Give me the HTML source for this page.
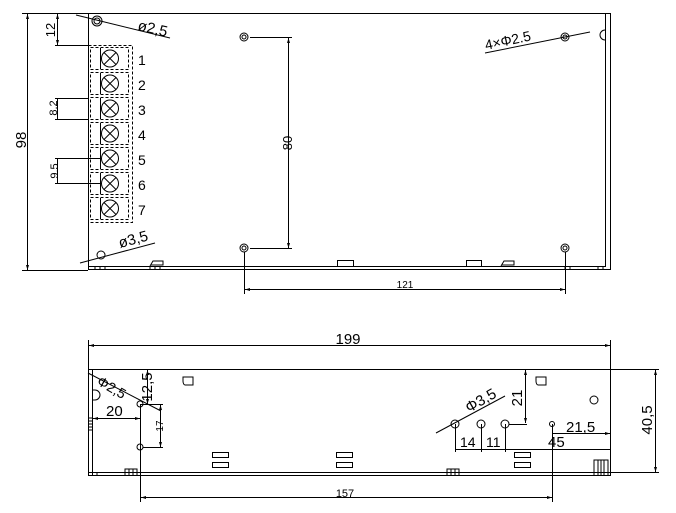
<!DOCTYPE html>
<html><head><meta charset="utf-8"><style>
html,body{margin:0;padding:0;background:#fff;}
svg{display:block;}
text{font-family:"Liberation Sans",sans-serif;fill:#000;}
</style></head><body>
<svg width="676" height="513" viewBox="0 0 676 513" xmlns="http://www.w3.org/2000/svg">
<defs>
<marker id="a" viewBox="0 0 10 6" refX="10" refY="3" markerWidth="7" markerHeight="3" orient="auto-start-reverse"><path d="M0,0L10,3L0,6z" fill="#000"/></marker>
</defs>
<g stroke="#000" stroke-width="1" fill="none">
<!-- TOP VIEW -->
<rect x="88.5" y="13.5" width="522" height="256"/>
<line x1="88" y1="266.5" x2="606" y2="266.5"/>
<line x1="605.5" y1="13" x2="605.5" y2="267"/>
<line x1="610.5" y1="13" x2="610.5" y2="270"/>
<path d="M605 30 a5 5 0 0 0 0 10"/>
<!-- bottom feet -->
<rect x="337.5" y="260.5" width="16" height="6"/>
<rect x="466.5" y="260.5" width="15" height="6"/>
<path d="M150 266 l3 -5 h10 v4 h-12"/>
<path d="M501 266 l3 -5 h10 v4 h-12"/>
<path d="M95 267v3M100 267v3M105 267v3M150 267v3M155 267v3M160 267v3M565 267v3M570 267v3M598 267v3M603 267v3"/>
<!-- holes -->
<circle cx="244" cy="37" r="4"/><circle cx="244" cy="37" r="2"/>
<circle cx="244" cy="248" r="4"/><circle cx="244" cy="248" r="2"/>
<circle cx="565" cy="37" r="4"/><circle cx="565" cy="37" r="2"/>
<circle cx="565" cy="248" r="4"/><circle cx="565" cy="248" r="2"/>
<circle cx="97" cy="21" r="5"/><circle cx="97" cy="21" r="3"/>
<circle cx="101" cy="255" r="4"/>
<!-- terminal block -->
<rect x="88.5" y="45.5" width="44" height="177" stroke-dasharray="3,2"/>
<g id="t">
<rect x="90.5" y="47.5" width="38" height="22" stroke-dasharray="3,2"/>
<line x1="100.5" y1="48" x2="100.5" y2="69"/>
<circle cx="110" cy="58.5" r="8.5"/>
<path d="M104 52.5l12 12M116 52.5l-12 12"/>
</g>
<use href="#t" y="25"/><use href="#t" y="50"/><use href="#t" y="75"/><use href="#t" y="100"/><use href="#t" y="125"/><use href="#t" y="150"/>
<!-- dims top view -->
<line x1="22" y1="13.5" x2="88" y2="13.5"/>
<line x1="22" y1="270.5" x2="88" y2="270.5"/>
<line x1="27.5" y1="14" x2="27.5" y2="270" marker-start="url(#a)" marker-end="url(#a)"/>
<line x1="55" y1="45.5" x2="88" y2="45.5"/>
<line x1="57.5" y1="14" x2="57.5" y2="45" marker-start="url(#a)" marker-end="url(#a)"/>
<line x1="55" y1="98.5" x2="88" y2="98.5"/>
<line x1="55" y1="119.5" x2="88" y2="119.5"/>
<line x1="57.5" y1="98" x2="57.5" y2="120"/>
<line x1="55" y1="158.5" x2="102" y2="158.5"/>
<line x1="55" y1="183.5" x2="102" y2="183.5"/>
<line x1="57.5" y1="158" x2="57.5" y2="184"/>
<line x1="250" y1="37.5" x2="292" y2="37.5"/>
<line x1="250" y1="248.5" x2="292" y2="248.5"/>
<line x1="288.5" y1="38" x2="288.5" y2="248" marker-start="url(#a)" marker-end="url(#a)"/>
<line x1="244.5" y1="252" x2="244.5" y2="294"/>
<line x1="565.5" y1="252" x2="565.5" y2="294"/>
<line x1="245" y1="289.5" x2="565" y2="289.5" marker-start="url(#a)" marker-end="url(#a)"/>
<!-- leaders -->
<line x1="76" y1="15" x2="170" y2="38"/>
<line x1="80" y1="263" x2="155" y2="243"/>
<line x1="485" y1="53" x2="590" y2="32"/>
<!-- BOTTOM VIEW -->
<rect x="88.5" y="369.5" width="522" height="106"/>
<line x1="88" y1="472.5" x2="611" y2="472.5"/>
<line x1="92.5" y1="369" x2="92.5" y2="476"/>
<path d="M92 390 h3 a5 5 0 0 1 0 10 h-3"/>
<path d="M88 418h4M88 421h4M88 424h4M88 427h4M88 430h4"/>
<path d="M125 476v-7h12v7M129 469v7M133 469v7"/>
<path d="M447 476v-7h12v7M451 469v7M455 469v7"/>
<path d="M594 476v-16h14v16M598 460v16M601 460v16M604 460v16"/>
<path d="M97 472v4"/>
<rect x="212.5" y="452.5" width="16" height="5"/><rect x="212.5" y="462.5" width="16" height="5"/>
<rect x="336.5" y="452.5" width="16" height="5"/><rect x="336.5" y="462.5" width="16" height="5"/>
<rect x="514.5" y="452.5" width="16" height="5"/><rect x="514.5" y="462.5" width="16" height="5"/>
<path d="M183 377h10v8h-8a2 4 0 0 1 -2 -4z"/>
<path d="M536 377h10v8h-8a2 4 0 0 1 -2 -4z"/>
<circle cx="140" cy="404" r="3"/>
<circle cx="140" cy="447" r="3"/>
<circle cx="455" cy="424" r="4"/>
<circle cx="481" cy="424" r="4"/>
<circle cx="505" cy="424" r="4"/>
<circle cx="552" cy="424" r="2.5"/>
<circle cx="594" cy="400" r="4"/>
<!-- dims bottom -->
<line x1="88.5" y1="340" x2="88.5" y2="369"/>
<line x1="610.5" y1="340" x2="610.5" y2="369"/>
<line x1="89" y1="345.5" x2="610" y2="345.5" marker-start="url(#a)" marker-end="url(#a)"/>
<line x1="611" y1="369.5" x2="659" y2="369.5"/>
<line x1="611" y1="472.5" x2="659" y2="472.5"/>
<line x1="655.5" y1="370" x2="655.5" y2="472" marker-start="url(#a)" marker-end="url(#a)"/>
<line x1="140.5" y1="404" x2="140.5" y2="502"/>
<line x1="552.5" y1="424" x2="552.5" y2="502"/>
<line x1="141" y1="497.5" x2="552" y2="497.5" marker-start="url(#a)" marker-end="url(#a)"/>
<line x1="93" y1="418.5" x2="140" y2="418.5" marker-start="url(#a)" marker-end="url(#a)"/>
<line x1="147.5" y1="370" x2="147.5" y2="404" marker-start="url(#a)" marker-end="url(#a)"/>
<line x1="140" y1="404.5" x2="163" y2="404.5"/>
<line x1="143" y1="447.5" x2="163" y2="447.5"/>
<line x1="160.5" y1="405" x2="160.5" y2="447" marker-start="url(#a)" marker-end="url(#a)"/>
<line x1="88" y1="373" x2="161" y2="411"/>
<line x1="525.5" y1="370" x2="525.5" y2="423" marker-start="url(#a)" marker-end="url(#a)"/>
<line x1="509" y1="424.5" x2="527" y2="424.5"/>
<line x1="455.5" y1="424" x2="455.5" y2="452"/>
<line x1="481.5" y1="424" x2="481.5" y2="452"/>
<line x1="505.5" y1="424" x2="505.5" y2="452"/>
<line x1="455" y1="449.5" x2="610" y2="449.5"/>
<line x1="553" y1="433.5" x2="610" y2="433.5" marker-end="url(#a)"/>
<line x1="436" y1="433" x2="505" y2="396"/>
</g>
<!-- labels -->
<g font-size="14">
<text x="138" y="65">1</text><text x="138" y="90">2</text><text x="138" y="115">3</text><text x="138" y="140">4</text><text x="138" y="165">5</text><text x="138" y="190">6</text><text x="138" y="215">7</text>
<text transform="translate(26,140) rotate(-90)" text-anchor="middle" font-size="15">98</text>
<text transform="translate(55,30) rotate(-90)" text-anchor="middle" font-size="13">12</text>
<text transform="translate(57,108) rotate(-90)" text-anchor="middle" font-size="11">8.2</text>
<text transform="translate(58,171) rotate(-90)" text-anchor="middle" font-size="11">9.5</text>
<text transform="translate(292,143) rotate(-90)" text-anchor="middle" font-size="13">80</text>
<text x="405" y="288" text-anchor="middle" font-size="10">121</text>
<text transform="translate(137,30) rotate(13)" font-size="15">ø2,5</text>
<text transform="translate(120,248) rotate(-15)" font-size="15">ø3,5</text>
<text transform="translate(486,50) rotate(-12)" font-size="14">4×Φ2.5</text>
<text x="348" y="344" text-anchor="middle" font-size="15">199</text>
<text transform="translate(652,420) rotate(-90)" text-anchor="middle" font-size="15">40,5</text>
<text x="345" y="497" text-anchor="middle" font-size="11">157</text>
<text x="106" y="416" font-size="15">20</text>
<text transform="translate(152,387) rotate(-90)" text-anchor="middle" font-size="15">12,5</text>
<text transform="translate(163,426) rotate(-90)" text-anchor="middle" font-size="10">17</text>
<text transform="translate(96,384) rotate(30)" font-size="14">Φ2,5</text>
<text transform="translate(469,413) rotate(-30)" font-size="15">Φ3,5</text>
<text transform="translate(522,398) rotate(-90)" text-anchor="middle" font-size="15">21</text>
<text x="460" y="447" font-size="14">14</text>
<text x="486" y="447" font-size="14">11</text>
<text x="548" y="447" font-size="15">45</text>
<text x="566" y="432" font-size="15">21,5</text>
</g>
</svg>
</body></html>
